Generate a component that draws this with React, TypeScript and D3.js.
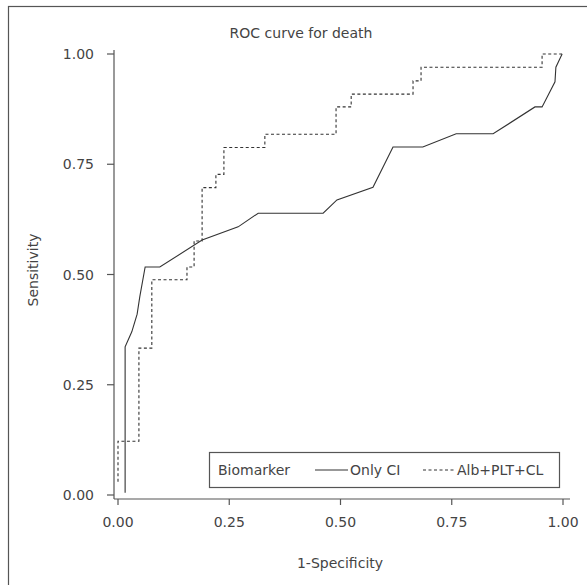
import React, { useEffect, useRef } from 'react';
import * as d3 from 'd3';

const WIDTH = 587;
const HEIGHT = 585;

const ticks = [0, 0.25, 0.5, 0.75, 1];
const tickLabels = ['0.00', '0.25', '0.50', '0.75', '1.00'];

// Only CI (solid)
const onlyCiX = [0.016, 0.016, 0.031, 0.043, 0.049, 0.061, 0.094, 0.189, 0.27, 0.315, 0.461, 0.492, 0.573, 0.618, 0.685, 0.76, 0.843, 0.937, 0.953, 0.982, 0.984, 0.998];
const onlyCiY = [0.005, 0.336, 0.37, 0.41, 0.45, 0.517, 0.517, 0.578, 0.608, 0.639, 0.639, 0.669, 0.698, 0.789, 0.789, 0.819, 0.819, 0.88, 0.88, 0.937, 0.97, 1.0];

// Alb+PLT+CL (dashed)
const albX = [0, 0, 0.047, 0.047, 0.076, 0.076, 0.155, 0.155, 0.171, 0.171, 0.189, 0.189, 0.22, 0.22, 0.238, 0.238, 0.33, 0.33, 0.49, 0.49, 0.524, 0.524, 0.663, 0.663, 0.681, 0.681, 0.953, 0.953, 0.998];
const albY = [0.03, 0.122, 0.122, 0.333, 0.333, 0.488, 0.488, 0.517, 0.517, 0.576, 0.576, 0.697, 0.697, 0.727, 0.727, 0.788, 0.788, 0.818, 0.818, 0.88, 0.88, 0.909, 0.909, 0.939, 0.939, 0.97, 0.97, 1.0, 1.0];

const seriesNames = ['Only CI', 'Alb+PLT+CL'];

const FONT = 'DejaVu Sans';
const TEXT = '#444';
const AXIS = '#555';
const LINE = '#333';

function App() {
  const ref = useRef<SVGSVGElement>(null);

  useEffect(() => {
    const svg = d3.select(ref.current);
    svg.selectAll('*').remove();

    // plot region and data scales
    const region = { left: 114, right: 570, top: 50, bottom: 499 };
    const x = d3.scaleLinear().domain([0, 1]).range([118, 563]);
    const y = d3.scaleLinear().domain([0, 1]).range([495, 54]);

    // outer frame (cropped on right / bottom)
    svg.append('rect')
      .attr('x', 8.5).attr('y', 6.5)
      .attr('width', 700).attr('height', 700)
      .attr('fill', 'white')
      .attr('stroke', AXIS)
      .attr('stroke-width', 1.2);

    svg.append('text')
      .attr('x', 301).attr('y', 38)
      .attr('text-anchor', 'middle')
      .attr('font-family', FONT).attr('font-size', 14)
      .attr('fill', TEXT)
      .text('ROC curve for death');

    // axes
    const axes = svg.append('g').attr('stroke', AXIS).attr('stroke-width', 1.2);
    axes.append('line')
      .attr('x1', region.left).attr('x2', region.left)
      .attr('y1', region.top).attr('y2', region.bottom);
    axes.append('line')
      .attr('x1', region.left).attr('x2', region.right)
      .attr('y1', region.bottom).attr('y2', region.bottom);

    axes.selectAll('.ytick')
      .data(ticks)
      .join('line')
      .attr('class', 'ytick')
      .attr('x1', region.left - 7).attr('x2', region.left)
      .attr('y1', d => y(d)).attr('y2', d => y(d));

    axes.selectAll('.xtick')
      .data(ticks)
      .join('line')
      .attr('class', 'xtick')
      .attr('x1', d => x(d)).attr('x2', d => x(d))
      .attr('y1', region.bottom).attr('y2', region.bottom + 6);

    svg.selectAll('.ylabel')
      .data(ticks)
      .join('text')
      .attr('class', 'ylabel')
      .attr('x', 94)
      .attr('y', d => y(d) + 5)
      .attr('text-anchor', 'end')
      .attr('font-family', FONT).attr('font-size', 14)
      .attr('fill', TEXT)
      .text((d, i) => tickLabels[i]);

    svg.selectAll('.xlabel')
      .data(ticks)
      .join('text')
      .attr('class', 'xlabel')
      .attr('x', d => x(d))
      .attr('y', 527)
      .attr('text-anchor', 'middle')
      .attr('font-family', FONT).attr('font-size', 14)
      .attr('fill', TEXT)
      .text((d, i) => tickLabels[i]);

    svg.append('text')
      .attr('x', 340).attr('y', 568)
      .attr('text-anchor', 'middle')
      .attr('font-family', FONT).attr('font-size', 14)
      .attr('fill', TEXT)
      .text('1-Specificity');

    svg.append('text')
      .attr('transform', 'translate(38,270) rotate(-90)')
      .attr('text-anchor', 'middle')
      .attr('font-family', FONT).attr('font-size', 14)
      .attr('fill', TEXT)
      .text('Sensitivity');

    // curves
    const line = d3.line<number>()
      .x(d => x(onlyCiX[d]))
      .y(d => y(onlyCiY[d]));
    const dashLine = d3.line<number>()
      .x(d => x(albX[d]))
      .y(d => y(albY[d]));

    svg.append('path')
      .attr('d', dashLine(d3.range(albX.length)))
      .attr('fill', 'none')
      .attr('stroke', LINE)
      .attr('stroke-width', 1.1)
      .attr('stroke-dasharray', '3,2.5');

    svg.append('path')
      .attr('d', line(d3.range(onlyCiX.length)))
      .attr('fill', 'none')
      .attr('stroke', LINE)
      .attr('stroke-width', 1.1);

    // legend
    const legend = svg.append('g');
    legend.append('rect')
      .attr('x', 209.5).attr('y', 452.5)
      .attr('width', 350).attr('height', 35)
      .attr('fill', 'white')
      .attr('stroke', AXIS)
      .attr('stroke-width', 1.2);
    legend.append('text')
      .attr('x', 218).attr('y', 475)
      .attr('font-family', FONT).attr('font-size', 14)
      .attr('fill', TEXT)
      .text('Biomarker');

    const items = [
      { x1: 315, x2: 348, tx: 350, dash: null },
      { x1: 423, x2: 455, tx: 457, dash: '3,2.5' },
    ];
    items.forEach((it, i) => {
      legend.append('line')
        .attr('x1', it.x1).attr('x2', it.x2)
        .attr('y1', 470).attr('y2', 470)
        .attr('stroke', LINE)
        .attr('stroke-width', 1.1)
        .attr('stroke-dasharray', it.dash);
      legend.append('text')
        .attr('x', it.tx).attr('y', 475)
        .attr('font-family', FONT).attr('font-size', 14)
        .attr('fill', TEXT)
        .text(seriesNames[i]);
    });
  }, []);

  return (
    <svg
      ref={ref}
      width={WIDTH}
      height={HEIGHT}
      style={{ position: 'absolute', left: 0, top: 0, background: 'white' }}
    />
  );
}

export default App;
